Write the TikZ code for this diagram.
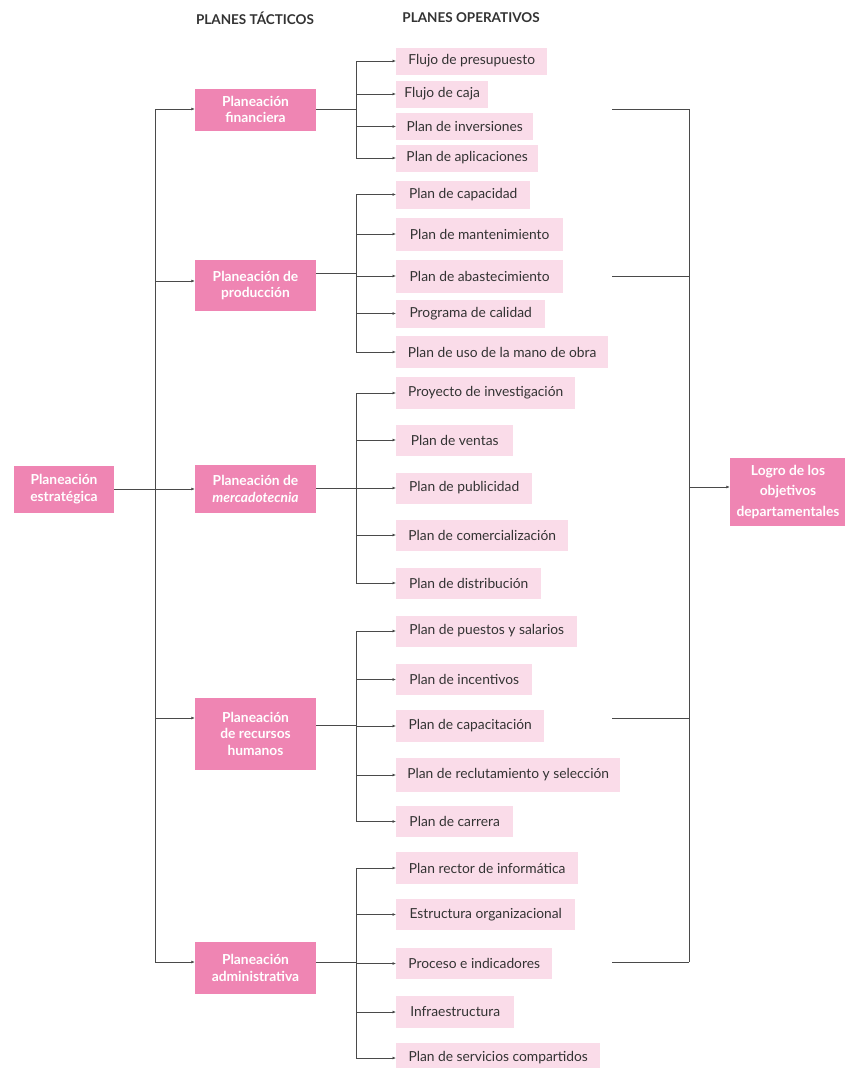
\documentclass[tikz,border=0pt]{standalone}
\usepackage{fontspec}
\setmainfont{Lato}
\usetikzlibrary{arrows.meta}
\definecolor{dpink}{HTML}{EF85B3}
\definecolor{lpink}{HTML}{FADCE9}
\definecolor{ln}{HTML}{4A4A4A}
\definecolor{tx}{HTML}{333333}
\tikzset{
  tact/.style={fill=dpink, draw=none, text=white, font=\fontsize{13.8}{16.5}\selectfont\bfseries, align=center, inner sep=0pt},
  oper/.style={fill=lpink, draw=none, text=tx, font=\fontsize{13.8}{16}\selectfont, anchor=west, inner sep=0pt, align=center},
  hdr/.style={text=tx, font=\fontsize{13.5}{16}\selectfont\bfseries},
  ln/.style={draw=ln, line width=0.9pt},
  arr/.style={ln, -{Latex[length=3.5pt,width=3pt]}}
}
\begin{document}
\begin{tikzpicture}[x=1pt,y=-1pt]
\useasboundingbox (0,0) rectangle (844,1068);
% headers
\node[hdr] (h1) at (255,18) {PLANES TÁCTICOS};
\node[hdr] (h2) at (471,18) {PLANES OPERATIVOS};
% strategic
\node[tact, minimum width=100, minimum height=47] (est) at (64,489) {Planeación\\estratégica};
% tactical
\node[tact, minimum width=121, minimum height=42] (fin) at (255.5,109.5) {Planeación\\financiera};
\node[tact, minimum width=121, minimum height=51] (pro) at (255.5,285.5) {Planeación de\\producción};
\node[tact, minimum width=121, minimum height=48] (mer) at (255.5,489) {Planeación de\\\textit{mercadotecnia}};
\node[tact, minimum width=121, minimum height=72] (rh) at (255.5,733.5) {Planeación\\de recursos\\humanos};
\node[tact, minimum width=121, minimum height=52] (adm) at (255.5,968) {Planeación\\administrativa};
% goal
\node[tact, minimum width=116, minimum height=68, font=\fontsize{13.8}{20.5}\selectfont\bfseries] (logro) at (788,492) {Logro de los\\objetivos\\departamentales};
% operative group 1
\node[oper, minimum width=151, minimum height=27] (o11) at (396,61) {Flujo de presupuesto};
\node[oper, minimum width=92, minimum height=27] (o12) at (396,94) {Flujo de caja};
\node[oper, minimum width=137, minimum height=27] (o13) at (396,126.5) {Plan de inversiones};
\node[oper, minimum width=142, minimum height=27] (o14) at (396,158) {Plan de aplicaciones};
% group 2
\node[oper, minimum width=134, minimum height=28] (o21) at (396,194.5) {Plan de capacidad};
\node[oper, minimum width=167, minimum height=33] (o22) at (396,234) {Plan de mantenimiento};
\node[oper, minimum width=167, minimum height=33] (o23) at (396,276) {Plan de abastecimiento};
\node[oper, minimum width=149, minimum height=28] (o24) at (396,313.5) {Programa de calidad};
\node[oper, minimum width=212, minimum height=32] (o25) at (396,352) {Plan de uso de la mano de obra};
% group 3
\node[oper, minimum width=179, minimum height=32] (o31) at (396,393) {Proyecto de investigación};
\node[oper, minimum width=117, minimum height=31] (o32) at (396,440) {Plan de ventas};
\node[oper, minimum width=136, minimum height=31] (o33) at (396,488) {Plan de publicidad};
\node[oper, minimum width=172, minimum height=31] (o34) at (396,535) {Plan de comercialización};
\node[oper, minimum width=145, minimum height=31] (o35) at (396,583) {Plan de distribución};
% group 4
\node[oper, minimum width=181, minimum height=31] (o41) at (396,631) {Plan de puestos y salarios};
\node[oper, minimum width=136, minimum height=31] (o42) at (396,679.5) {Plan de incentivos};
\node[oper, minimum width=148, minimum height=32] (o43) at (396,726) {Plan de capacitación};
\node[oper, minimum width=224, minimum height=34] (o44) at (396,775) {Plan de reclutamiento y selección};
\node[oper, minimum width=117, minimum height=31] (o45) at (396,821.5) {Plan de carrera};
% group 5
\node[oper, minimum width=182, minimum height=32] (o51) at (396,868) {Plan rector de informática};
\node[oper, minimum width=179, minimum height=31] (o52) at (396,914.5) {Estructura organizacional};
\node[oper, minimum width=156, minimum height=31] (o53) at (396,963.5) {Proceso e indicadores};
\node[oper, minimum width=118, minimum height=32] (o54) at (396,1012) {Infraestructura};
\node[oper, minimum width=204, minimum height=30] (o55) at (396,1058) {Plan de servicios compartidos};
% trunk
\coordinate (t1) at (155,109);
\coordinate (t2) at (155,281);
\coordinate (t4) at (155,718);
\coordinate (t5) at (155,962);
\draw[ln] (t1) -- (t5);
\draw[arr] (t1) -- (t1 -| fin.west);
\draw[arr] (t2) -- (t2 -| pro.west);
\draw[arr] (est.east) -- (mer.west);
\draw[arr] (t4) -- (t4 -| rh.west);
\draw[arr] (t5) -- (t5 -| adm.west);
% group 1 bracket
\coordinate (b1) at (356,109);
\draw[ln] (b1 |- o11) -- (b1 |- o14);
\draw[ln] (fin.east |- b1) -- (b1);
\foreach \n in {o11,o12,o13,o14} \draw[arr] (b1 |- \n) -- (\n.west);
% group 2
\coordinate (b2) at (356,273);
\draw[ln] (b2 |- o21) -- (b2 |- o25);
\draw[ln] (pro.east |- b2) -- (b2);
\foreach \n in {o21,o22,o23,o24,o25} \draw[arr] (b2 |- \n) -- (\n.west);
% group 3
\coordinate (b3) at (356,488);
\draw[ln] (b3 |- o31) -- (b3 |- o35);
\draw[ln] (mer.east |- b3) -- (b3);
\foreach \n in {o31,o32,o33,o34,o35} \draw[arr] (b3 |- \n) -- (\n.west);
% group 4
\coordinate (b4) at (356,725);
\draw[ln] (b4 |- o41) -- (b4 |- o45);
\draw[ln] (rh.east |- b4) -- (b4);
\foreach \n in {o41,o42,o43,o44,o45} \draw[arr] (b4 |- \n) -- (\n.west);
% group 5
\coordinate (b5) at (356,962);
\draw[ln] (b5 |- o51) -- (b5 |- o55);
\draw[ln] (adm.east |- b5) -- (b5);
\foreach \n in {o51,o52,o53,o54,o55} \draw[arr] (b5 |- \n) -- (\n.west);
% right bracket
\coordinate (r1) at (612,109);
\coordinate (r2) at (612,276);
\coordinate (r4) at (612,718);
\coordinate (r5) at (612,962);
\coordinate (rv1) at (689,109);
\coordinate (rv5) at (689,962);
\coordinate (rm) at (689,487);
\draw[ln] (rv1) -- (rv5);
\foreach \c in {r1,r2,r4,r5} \draw[ln] (\c) -- (\c -| rv1);
\draw[arr] (rm) -- (rm -| logro.west);
\end{tikzpicture}
\end{document}
